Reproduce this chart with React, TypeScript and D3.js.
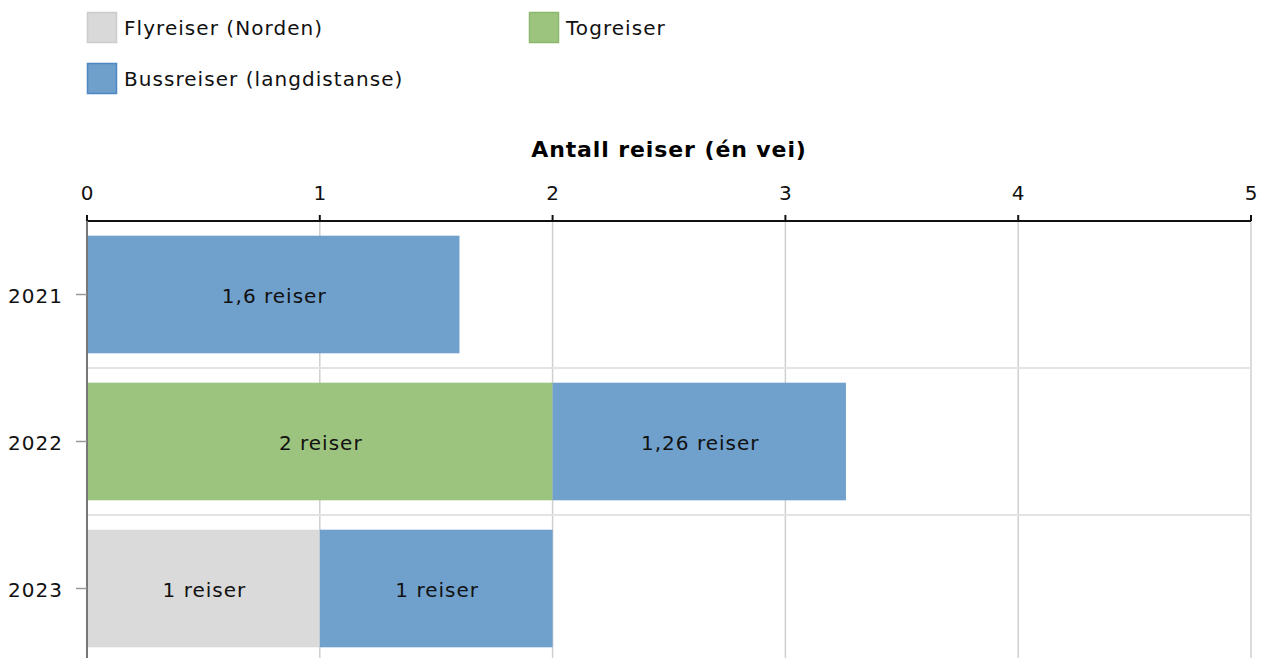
import React from "react";
import * as d3 from "d3";

const years = ["2021", "2022", "2023"];
const seriesNames = ["Flyreiser (Norden)", "Togreiser", "Bussreiser (langdistanse)"];
const flyValues = [0, 0, 1];
const togValues = [0, 2, 0];
const bussValues = [1.6, 1.26, 1];
const seriesColors = ["#d8d8d8", "#99c27a", "#6a9cca"];
const legendColors = ["#d9d9d9", "#9dc47f", "#6f9fcb"];
const seriesStroke = ["#cccccc", "#8cb86c", "#4d88c4"];
const xTicks = [0, 1, 2, 3, 4, 5];
const axisTitle = "Antall reiser (én vei)";

const W = 1269;
const H = 658;
const FONT = "'DejaVu Sans', Verdana, sans-serif";

export default function App() {
  const left = 87;
  const right = 1251;
  const top = 221;
  const step = 147;
  const x = d3.scaleLinear().domain([0, 5]).range([left, right]);
  const y = d3
    .scaleBand<string>()
    .domain(years)
    .range([top, top + step * years.length])
    .paddingInner(0.2)
    .paddingOuter(0.1);
  const seriesValues = [flyValues, togValues, bussValues];
  const stackData = years.map((yr, i) => {
    const o: any = { year: yr };
    seriesNames.forEach((s, j) => (o[s] = seriesValues[j][i]));
    return o;
  });
  const stacked = d3.stack<any>().keys(seriesNames)(stackData);
  const fmt = (v: number) => String(v).replace(".", ",") + " reiser";

  const legendPos = [
    { x: 87, y: 12 },
    { x: 529, y: 12 },
    { x: 87, y: 63 },
  ];

  return (
    <svg width={W} height={H} style={{ display: "block", position: "absolute", left: 0, top: 0 }} fontFamily={FONT}>
      <rect width={W} height={H} fill="#fff" />
      {/* legend */}
      {seriesNames.map((s, i) => (
        <g key={s} transform={`translate(${legendPos[i].x},${legendPos[i].y})`}>
          <rect x={0.5} y={0.5} width={29} height={30} fill={legendColors[i]} stroke={seriesStroke[i]} strokeWidth={1.5} />
          <text x={37} y={23} fontSize={20} letterSpacing={1.05} fill="#111">{s}</text>
        </g>
      ))}
      {/* title */}
      <text x={(left + right) / 2} y={157} textAnchor="middle" fontSize={22} letterSpacing={0.9} fontWeight="bold" fill="#000">
        {axisTitle}
      </text>
      {/* vertical gridlines */}
      {xTicks.map((t) => (
        <line key={"g" + t} x1={x(t)} x2={x(t)} y1={top} y2={H} stroke="#d0d0d0" strokeWidth={1.5} />
      ))}
      {/* horizontal separators */}
      {years.slice(1).map((yr) => (
        <line key={"s" + yr} x1={left} x2={right} y1={y(yr)! - (y.step() * 0.2) / 2} y2={y(yr)! - (y.step() * 0.2) / 2} stroke="#e3e3e3" strokeWidth={2} />
      ))}
      {/* bars */}
      {stacked.map((layer, j) =>
        layer.map((d, i) =>
          seriesValues[j][i] > 0 ? (
            <rect
              key={j + "-" + i}
              x={x(d[0])}
              y={y(years[i])}
              width={x(d[1]) - x(d[0])}
              height={y.bandwidth()}
              fill={seriesColors[j]}
              opacity={0.96}
            />
          ) : null
        )
      )}
      {stacked.map((layer, j) =>
        layer.map((d, i) =>
          seriesValues[j][i] > 0 ? (
            <text
              key={"t" + j + "-" + i}
              x={(x(d[0]) + x(d[1])) / 2 + 1}
              y={y(years[i])! + y.bandwidth() / 2 + 8}
              textAnchor="middle"
              fontSize={20}
              letterSpacing={1}
              fill="#111"
            >
              {fmt(seriesValues[j][i])}
            </text>
          ) : null
        )
      )}
      {/* x axis */}
      <line x1={left} x2={right} y1={top} y2={top} stroke="#111" strokeWidth={2} />
      {xTicks.map((t) => (
        <g key={"t" + t}>
          <line x1={x(t)} x2={x(t)} y1={top - 6} y2={top} stroke="#111" strokeWidth={2} />
          <text x={x(t)} y={200} textAnchor="middle" fontSize={20} fill="#111">{t}</text>
        </g>
      ))}
      {/* y axis */}
      <line x1={left} x2={left} y1={top} y2={H} stroke="#777" strokeWidth={2} />
      {years.map((yr) => (
        <g key={"y" + yr}>
          <line x1={76} x2={left} y1={y(yr)! + y.bandwidth() / 2} y2={y(yr)! + y.bandwidth() / 2} stroke="#999" strokeWidth={1.5} />
          <text x={63} y={y(yr)! + y.bandwidth() / 2 + 8} textAnchor="end" fontSize={20} letterSpacing={1} fill="#111">{yr}</text>
        </g>
      ))}
    </svg>
  );
}
